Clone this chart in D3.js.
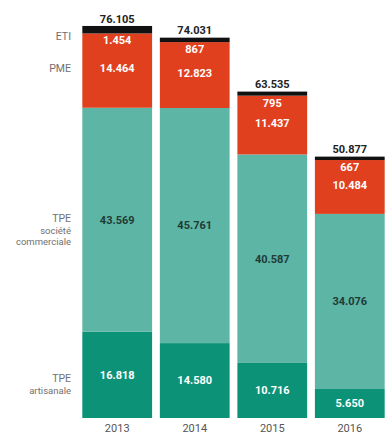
<!DOCTYPE html>
<html>
<head>
<meta charset="utf-8">
<script src="https://cdn.jsdelivr.net/npm/d3@7"></script>
<style>
  body { margin: 0; background: #fff; }
  text { font-family: Roboto, "Noto Sans", sans-serif; }
</style>
</head>
<body>
<script>
// Data (in entreprises, "." as thousands separator)
const years = ["2013", "2014", "2015", "2016"];
const tpeArtisanale = [16818, 14580, 10716, 5650];
const tpeCommerciale = [43569, 45761, 40587, 34076];
const pme = [14464, 12823, 11437, 10484];
const eti = [1454, 867, 795, 667];
const totals = [76105, 74031, 63535, 50877];

const seriesKeys = ["artisanale", "commerciale", "pme", "eti"];
const seriesColors = { artisanale: "#0b9277", commerciale: "#5db5a5", pme: "#e1401f", eti: "#111111" };
const seriesLabels = {
  eti: ["ETI"],
  pme: ["PME"],
  commerciale: ["TPE", "société", "commerciale"],
  artisanale: ["TPE", "artisanale"]
};

const width = 387, height = 434;
const fmt = d3.formatLocale({ decimal: ",", thousands: ".", grouping: [3] }).format(",d");

const rows = years.map((y, i) => ({
  year: y,
  artisanale: tpeArtisanale[i],
  commerciale: tpeCommerciale[i],
  pme: pme[i],
  eti: eti[i],
  total: totals[i]
}));

const svg = d3.select("body").append("svg")
  .attr("width", width)
  .attr("height", height);

// scales
const x = d3.scaleBand()
  .domain(years)
  .range([80, 387])
  .paddingInner(0.1)
  .paddingOuter(0.03);

const yScale = d3.scaleLinear()
  .domain([0, 76105])
  .range([418, 27]);

const stack = d3.stack().keys(seriesKeys);
const stacked = stack(rows);

// bars
const layers = svg.selectAll(".layer")
  .data(stacked)
  .enter()
  .append("g")
  .attr("class", "layer")
  .attr("fill", d => seriesColors[d.key]);

layers.selectAll("rect")
  .data(d => d)
  .enter()
  .append("rect")
  .attr("x", d => x(d.data.year))
  .attr("y", d => yScale(d[1]))
  .attr("width", x.bandwidth())
  .attr("height", d => yScale(d[0]) - yScale(d[1]));

// value labels inside segments
stacked.forEach(layer => {
  layer.forEach(d => {
    const cx = x(d.data.year) + x.bandwidth() / 2;
    let cy;
    if (layer.key === "eti") {
      // ETI is too thin, so its label goes just under the black band
      cy = yScale(d[0]) + 7;
    } else if (layer.key === "pme") {
      cy = (yScale(d[0]) + yScale(d[1])) / 2 - 2;
    } else {
      cy = (yScale(d[0]) + yScale(d[1])) / 2;
    }
    svg.append("text")
      .attr("x", cx)
      .attr("y", cy)
      .attr("dy", "0.35em")
      .attr("text-anchor", "middle")
      .attr("font-size", 11)
      .attr("font-weight", 700)
      .attr("fill", layer.key === "commerciale" ? "#1f3b36" : "#ffffff")
      .text(fmt(d.data[layer.key]));
  });
});

// totals on top
svg.selectAll(".total")
  .data(rows)
  .enter()
  .append("text")
  .attr("class", "total")
  .attr("x", d => x(d.year) + x.bandwidth() / 2)
  .attr("y", d => yScale(d.total) - 4)
  .attr("text-anchor", "middle")
  .attr("font-size", 11)
  .attr("font-weight", 700)
  .attr("fill", "#222")
  .text(d => fmt(d.total));

// row labels on the left, lined up with the first bar
const first = {};
stacked.forEach(layer => { first[layer.key] = layer[0]; });
const labelY = {
  eti: yScale(first.eti[1]) + 10,
  pme: (yScale(first.pme[0]) + yScale(first.pme[1])) / 2 - 2,
  commerciale: (yScale(first.commerciale[0]) + yScale(first.commerciale[1])) / 2 - 1,
  artisanale: (yScale(first.artisanale[0]) + yScale(first.artisanale[1])) / 2 + 4
};

seriesKeys.forEach(k => {
  const t = svg.append("text")
    .attr("x", 71)
    .attr("y", labelY[k])
    .attr("text-anchor", "end")
    .attr("font-size", 10.5)
    .attr("font-weight", 400)
    .attr("fill", "#707070");
  seriesLabels[k].forEach((line, i) => {
    t.append("tspan")
      .attr("x", 71)
      .attr("dy", i === 0 ? "0.35em" : "1.2em")
      .attr("font-size", i === 0 ? 10.5 : 9.5)
      .text(line);
  });
});

// year axis
const xAxis = svg.append("g")
  .attr("transform", "translate(0,418)")
  .call(d3.axisBottom(x).tickSize(0).tickPadding(6));
xAxis.select(".domain").remove();
xAxis.selectAll("text")
  .attr("font-size", 11)
  .attr("font-family", "Roboto, sans-serif")
  .attr("fill", "#555");
</script>
</body>
</html>
